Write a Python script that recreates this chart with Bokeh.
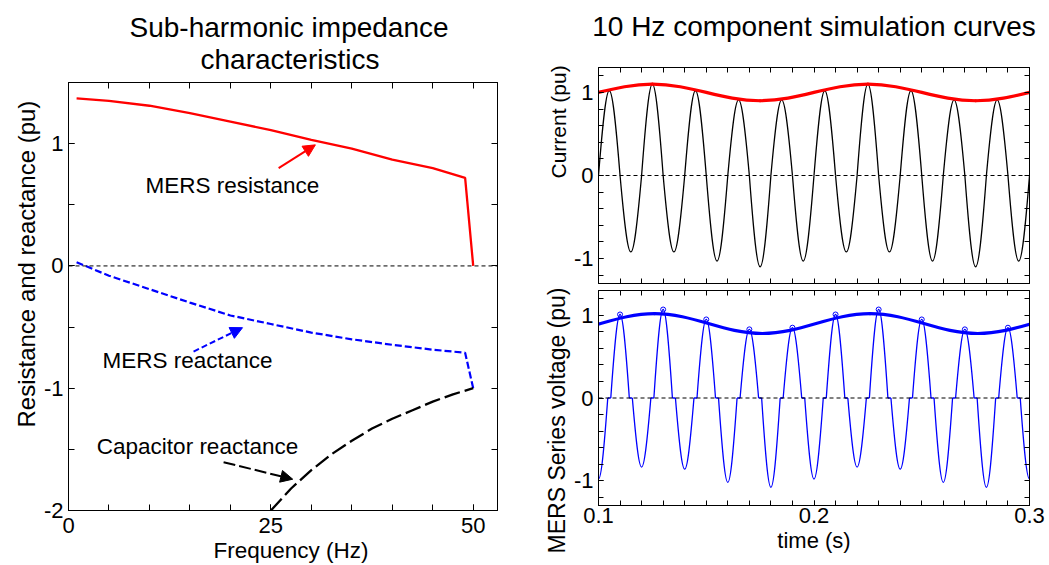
import numpy as np
from bokeh.plotting import figure
from bokeh.models import (Range1d, FixedTicker, LinearAxis, Span, Label, Arrow,
                          NormalHead, Title, ColumnDataSource)
from bokeh.layouts import row, column
from bokeh.embed import file_html
from bokeh.resources import INLINE

FONT = "Liberation Sans"

# ---------------- data: left panel (impedance characteristics) ----------------
freq_mers = [1, 5, 10, 15, 20, 25, 30, 35, 40, 45, 49, 50]
mers_resistance = [1.37, 1.35, 1.31, 1.25, 1.18, 1.11, 1.03, 0.96, 0.87, 0.80, 0.72, 0.0]
mers_reactance = [0.03, -0.08, -0.19, -0.30, -0.405, -0.475, -0.545, -0.60, -0.645, -0.685, -0.71, -1.0]
freq_cap = [25, 27.5, 30, 32.5, 35, 37.5, 40, 42.5, 45, 47.5, 50]
cap_reactance = [-2.0, -1.82, -1.67, -1.54, -1.43, -1.33, -1.25, -1.18, -1.11, -1.05, -1.0]

freq_ticks = [0, 25, 50]
freq_minor = [0, 5, 10, 15, 20, 25, 30, 35, 40, 45, 50]
imp_ticks = [-2, -1, 0, 1]
imp_minor = [-2, -1.5, -1, -0.5, 0, 0.5, 1, 1.5]

# ---------------- data: right panels (10 Hz simulation) ----------------
# current: zero crossings and half-wave peak values
i_zero_t = [0.10, 0.11, 0.12, 0.13, 0.14, 0.15, 0.16, 0.17, 0.18, 0.19, 0.20,
            0.21, 0.22, 0.23, 0.24, 0.25, 0.26, 0.27, 0.28, 0.29, 0.30]
i_peak_v = [1.02, -0.92, 1.10, -0.92, 1.02, -1.03, 0.91, -1.10, 0.91, -1.03,
            1.02, -0.92, 1.10, -0.92, 1.02, -1.03, 0.91, -1.10, 0.91, -1.03]
# current envelope extremes (10 Hz)
i_env_t = [0.075, 0.125, 0.175, 0.225, 0.275, 0.325]
i_env_v = [0.90, 1.10, 0.90, 1.10, 0.90, 1.10]

# MERS series voltage: lobe centres, lobe peak values, lobe width (s)
v_lobe_t = [0.10, 0.11, 0.12, 0.13, 0.14, 0.15, 0.16, 0.17, 0.18, 0.19, 0.20,
            0.21, 0.22, 0.23, 0.24, 0.25, 0.26, 0.27, 0.28, 0.29, 0.30]
v_lobe_v = [-0.98, 1.01, -0.835, 1.07, -0.86, 0.95, -1.02, 0.83, -1.08, 0.85, -0.98,
            1.01, -0.835, 1.07, -0.86, 0.95, -1.02, 0.83, -1.08, 0.85, -0.98]
v_lobe_width = 0.0086
# voltage envelope extremes
v_env_t = [0.076, 0.126, 0.176, 0.226, 0.276, 0.326]
v_env_v = [0.78, 1.02, 0.78, 1.02, 0.78, 1.02]

time_ticks = [0.1, 0.2, 0.3]
time_minor = [0.10, 0.11, 0.12, 0.13, 0.14, 0.15, 0.16, 0.17, 0.18, 0.19, 0.20,
              0.21, 0.22, 0.23, 0.24, 0.25, 0.26, 0.27, 0.28, 0.29, 0.30]
pu_ticks = [-1, 0, 1]
pu_minor = [-1.2, -1.0, -0.8, -0.6, -0.4, -0.2, 0, 0.2, 0.4, 0.6, 0.8, 1.0, 1.2]


# ---------------- helpers ----------------
K_SINE = 4.0 / (3.0 * np.pi)   # cubic-bezier shape of a sine half wave
K_COS = 1.0 - 2.0 / np.pi      # cubic-bezier shape of a half cosine between extremes


def half_waves(starts, ends, peaks):
    s = np.asarray(starts, float)
    e = np.asarray(ends, float)
    h = np.asarray(peaks, float) * 4.0 / 3.0
    w = e - s
    z = np.zeros_like(s)
    return ColumnDataSource(dict(x0=s, y0=z, x1=e, y1=z,
                                 cx0=s + K_SINE * w, cy0=h,
                                 cx1=e - K_SINE * w, cy1=h))


def smooth_extremes(ts, vs):
    t = np.asarray(ts, float)
    v = np.asarray(vs, float)
    w = t[1:] - t[:-1]
    return ColumnDataSource(dict(x0=t[:-1], y0=v[:-1], x1=t[1:], y1=v[1:],
                                 cx0=t[:-1] + K_COS * w, cy0=v[:-1],
                                 cx1=t[1:] - K_COS * w, cy1=v[1:]))


def label_map(ticks):
    m = {}
    for t in ticks:
        s = "%g" % t
        m[t] = s
        m[s] = s
    return m


def style_axis(ax, ticks, minor, tick_len, labels=True, standoff=5, size="22px"):
    ax.axis_line_color = "black"
    ax.axis_line_width = 1
    ax.major_tick_in = tick_len
    ax.major_tick_out = 0
    ax.minor_tick_in = tick_len
    ax.minor_tick_out = 0
    ax.major_tick_line_color = "black"
    ax.minor_tick_line_color = "black"
    ax.major_label_text_font = FONT
    ax.major_label_text_color = "black"
    ax.major_label_text_font_size = size
    ax.axis_label_text_font = FONT
    ax.axis_label_text_font_style = "normal"
    ax.axis_label_text_color = "black"
    if labels:
        ax.ticker = FixedTicker(ticks=ticks, minor_ticks=minor)
        ax.major_label_standoff = standoff
        ax.major_label_overrides = label_map(ticks)
    else:
        # no labelled (major) ticks: every tick mark drawn as an unlabelled minor tick
        ax.ticker = FixedTicker(ticks=[], minor_ticks=minor)
        ax.major_label_standoff = 0


def base_fig(**kw):
    p = figure(output_backend="svg", toolbar_location=None, title=None, **kw)
    p.xgrid.visible = False
    p.ygrid.visible = False
    p.outline_line_color = "black"
    p.background_fill_color = "white"
    p.border_fill_color = "white"
    return p


def frame_axes(p, xt, xm, yt, ym, tick_len, xlabels=True, xstand=5, ystand=5):
    style_axis(p.xaxis[0], xt, xm, tick_len, labels=xlabels, standoff=xstand)
    style_axis(p.yaxis[0], yt, ym, tick_len, labels=True, standoff=ystand)
    top = LinearAxis()
    right = LinearAxis()
    style_axis(top, xt, xm, tick_len, labels=False)
    style_axis(right, yt, ym, tick_len, labels=False)
    p.add_layout(top, "above")
    p.add_layout(right, "right")
    return top, right


def zero_line(p):
    p.add_layout(Span(location=0, dimension="width", line_color="black",
                      line_dash="4 3", line_width=1))


def title(p, text, side, size, align="center", offset=0, standoff=0):
    p.add_layout(Title(text=text, align=align, offset=offset, standoff=standoff,
                       text_font=FONT, text_font_size=size, text_font_style="normal",
                       text_color="black"), side)


def text_label(p, x, y, text, size):
    p.add_layout(Label(x=x, y=y, text=text, text_font=FONT, text_font_size=size,
                       text_color="black", text_align="left",
                       text_baseline="alphabetic"))


# ---------------- left figure ----------------
p1 = base_fig(width=528, height=563, x_range=Range1d(0, 53), y_range=Range1d(-2, 1.5),
              min_border_left=68, min_border_right=31, min_border_top=82,
              min_border_bottom=53)
frame_axes(p1, freq_ticks, freq_minor, imp_ticks, imp_minor, 6, xstand=7, ystand=5)
title(p1, "characteristics", "above", "28px", align="left", offset=132, standoff=15)
title(p1, "Sub-harmonic impedance", "above", "28px", align="left", offset=61, standoff=-17)
title(p1, "Resistance and reactance (pu)", "left", "24px", align="left", offset=83, standoff=2)
title(p1, "Frequency (Hz)", "below", "22.5px", align="left", offset=145, standoff=0)
zero_line(p1)

p1.line(freq_mers, mers_resistance, line_color="#ff0000", line_width=2.3)
p1.line(freq_mers, mers_reactance, line_color="#0000ff", line_width=2.2, line_dash="7 3")
p1.line(freq_cap, cap_reactance, line_color="black", line_width=2.3, line_dash="16 5")

text_label(p1, 9.5, 0.66, "MERS resistance", "22.5px")
text_label(p1, 4.2, -0.777, "MERS reactance", "22.5px")
text_label(p1, 3.5, -1.475, "Capacitor reactance", "22.5px")

p1.add_layout(Arrow(end=NormalHead(size=12, fill_color="#ff0000", line_color="#ff0000"),
                    x_start=25.96, y_start=0.80, x_end=30.5, y_end=0.99,
                    line_color="#ff0000", line_width=2))
p1.add_layout(Arrow(end=NormalHead(size=12, fill_color="#0000ff", line_color="#0000ff"),
                    x_start=15.45, y_start=-0.70, x_end=21.5, y_end=-0.505,
                    line_color="#0000ff", line_width=2, line_dash="6 3"))
p1.add_layout(Arrow(end=NormalHead(size=12, fill_color="black", line_color="black"),
                    x_start=19.16, y_start=-1.605, x_end=27.7, y_end=-1.744,
                    line_color="black", line_width=2, line_dash="12 4"))

# ---------------- right figures ----------------
xr = Range1d(0.1, 0.3)
p2 = base_fig(width=517, height=284, x_range=xr, y_range=Range1d(-1.3, 1.3),
              min_border_left=70, min_border_right=16, min_border_top=67,
              min_border_bottom=1)
top2, _ = frame_axes(p2, time_ticks, time_minor, pu_ticks, pu_minor, 5, xlabels=False)
top2.axis_label = "10 Hz component simulation curves"
top2.axis_label_text_font_size = "28px"
top2.axis_label_standoff = 26
title(p2, "Current (pu)", "left", "21px", align="left", offset=105, standoff=2)
zero_line(p2)
p2.bezier(x0="x0", y0="y0", x1="x1", y1="y1", cx0="cx0", cy0="cy0", cx1="cx1", cy1="cy1",
          source=half_waves(i_zero_t[:-1], i_zero_t[1:], i_peak_v),
          line_color="black", line_width=1.3)
p2.bezier(x0="x0", y0="y0", x1="x1", y1="y1", cx0="cx0", cy0="cy0", cx1="cx1", cy1="cy1",
          source=smooth_extremes(i_env_t, i_env_v),
          line_color="#ff0000", line_width=3.2, line_cap="round")

p3 = base_fig(width=517, height=279, x_range=xr, y_range=Range1d(-1.3, 1.3),
              min_border_left=70, min_border_right=16, min_border_top=6,
              min_border_bottom=58)
frame_axes(p3, time_ticks, time_minor, pu_ticks, pu_minor, 5, xlabels=True, xstand=2)
title(p3, "MERS Series voltage (pu)", "left", "23px", align="right", offset=-3, standoff=2)
title(p3, "time (s)", "below", "22px", align="center", standoff=0)
zero_line(p3)
vc = np.asarray(v_lobe_t, float)
vv = np.asarray(v_lobe_v, float)
v_start = vc - v_lobe_width / 2
v_end = vc + v_lobe_width / 2
p3.bezier(x0="x0", y0="y0", x1="x1", y1="y1", cx0="cx0", cy0="cy0", cx1="cx1", cy1="cy1",
          source=half_waves(v_start, v_end, vv), line_color="#0000ff", line_width=1.3)
p3.segment(x0=v_end[:-1], y0=np.zeros(len(vc) - 1), x1=v_start[1:], y1=np.zeros(len(vc) - 1),
           line_color="#0000ff", line_width=1.3)
pos = vv > 0
p3.scatter(x=vc[pos], y=vv[pos], marker="circle", size=5, fill_color=None,
           line_color="#0000ff", line_width=1)
p3.bezier(x0="x0", y0="y0", x1="x1", y1="y1", cx0="cx0", cy0="cy0", cx1="cx1", cy1="cy1",
          source=smooth_extremes(v_env_t, v_env_v),
          line_color="#0000ff", line_width=3.2, line_cap="round")

layout = row(p1, column(p2, p3))
open("out.html", "w").write(file_html(layout, INLINE))
